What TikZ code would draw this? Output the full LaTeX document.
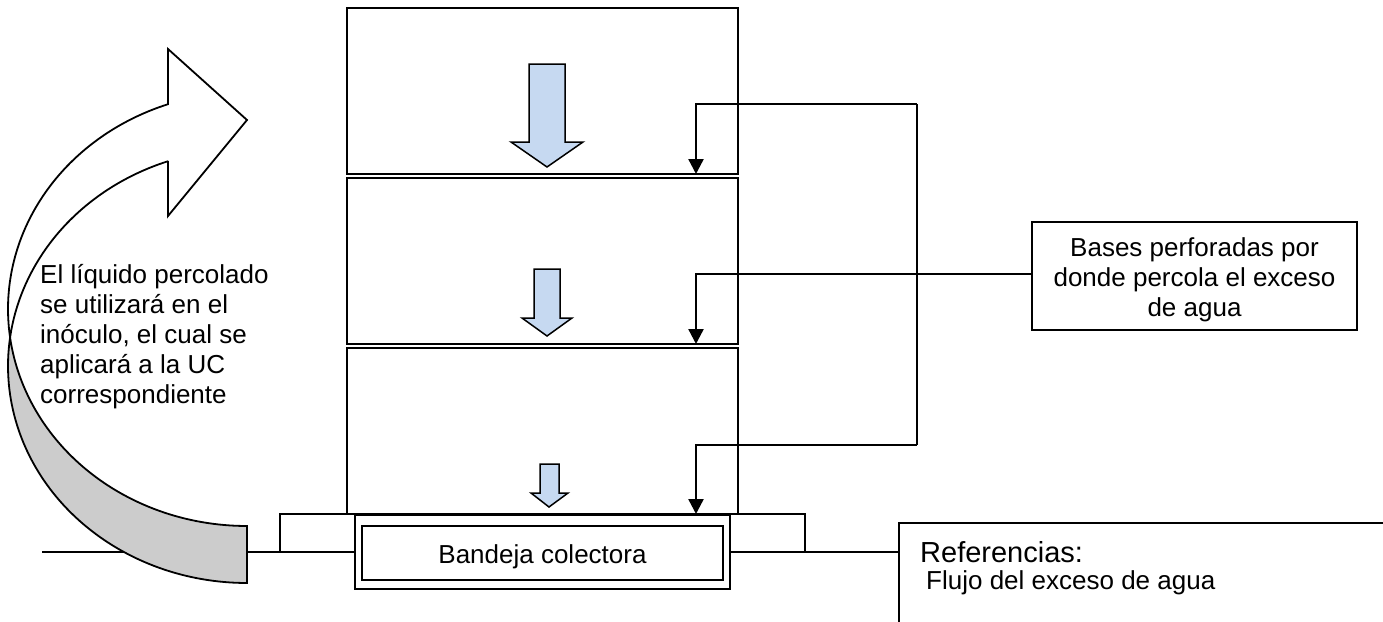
\documentclass[tikz,border=0pt]{standalone}
\usepackage{fontspec}
\setmainfont{Liberation Sans}
\usetikzlibrary{arrows.meta}
\definecolor{arrowblue}{HTML}{C6D9F1}
\definecolor{backgray}{HTML}{CCCCCC}
\begin{document}
\begin{tikzpicture}[x=1pt,y=-1pt,
  box/.style={draw, line width=1.6pt, outer sep=0pt, inner sep=0pt, anchor=north west},
  wire/.style={line width=2.4pt},
  conn/.style={line width=2.4pt, -{Triangle[length=15pt,width=15pt]}},
  blockarrow/.style={draw, line width=1.5pt, fill=arrowblue, line join=miter},
  bigarrow/.style={draw, line width=1.8pt, line join=miter},
  txt/.style={font=\fontsize{26}{30}\selectfont, inner sep=0pt},
  reftxt/.style={font=\fontsize{29}{33}\selectfont, inner sep=0pt}]
\useasboundingbox (0,0) rectangle (1383,621);
\fill[white] (0,0) rectangle (1383,621);

% stacked containers
\node[box, minimum width=391pt, minimum height=166pt] (b1) at (347,8) {};
\node[box, minimum width=391pt, minimum height=166pt] (b2) at (347,178) {};
\node[box, minimum width=391pt, minimum height=166pt] (b3) at (347,348) {};

% supports and collecting tray
\node[box, minimum width=75pt, minimum height=38pt] (lsup) at (280,514) {};
\node[box, minimum width=75pt, minimum height=38pt] (rsup) at (730,514) {};
\node[box, minimum width=375pt, minimum height=74pt] (trayout) at (355,515) {};
\node[box, minimum width=361pt, minimum height=54pt] (tray) at (362,526) {};
\node[txt] (traylabel) at ([yshift=-4pt]tray.center) {Bandeja colectora};

% ground lines
\coordinate (gl) at (42,552);
\coordinate (refcorner) at (899,552);
\draw[line width=1.6pt] (gl) -- (lsup.south west);
\draw[line width=1.6pt] (rsup.south east) -- (refcorner);

% references box (runs off the page)
\draw[line width=1.6pt] (1384,523) -- (899,523) -- (899,622);
\node[reftxt, anchor=base west] (ref1) at (920,562) {Referencias:};
\node[txt, anchor=base west] (ref2) at (926,589) {Flujo del exceso de agua};

% blue flow arrows
\draw[blockarrow] (529,64) -- (565,64) -- (565,142) -- (583,142) -- (547,167) -- (511,142) -- (529,142) -- cycle;
\draw[blockarrow] (534,269) -- (560,269) -- (560,318) -- (572,318) -- (547,336) -- (522,318) -- (534,318) -- cycle;
\draw[blockarrow] (540,464) -- (559,464) -- (559,493) -- (568,493) -- (549,507) -- (531,493) -- (540,493) -- cycle;

% label box
\node[draw, line width=1.6pt, minimum width=325pt, minimum height=108pt, inner sep=0pt, outer sep=0pt] (bases) at (1194.5,276) {};
\node[txt, align=center] (baseslabel) at ([yshift=-4pt]bases.center) {Bases perforadas por\\donde percola el exceso\\de agua};

% connectors
\coordinate (s1) at (917,104);
\coordinate (s3) at (917,445);
\coordinate (t1) at (696,174);
\coordinate (t2) at (696,344);
\coordinate (t3) at (696,514);
\coordinate (bj) at (1032,274);
\draw[wire] (s1) -- (s3);
\draw[conn] (s1) -| (t1);
\draw[conn] (bj) -| (t2);
\draw[conn] (s3) -| (t3);

% curved arrow (back side shaded)
\fill[backgray] plot[domain=187.55:90, samples=60] ({247+239*cos(\x)},{366+217*sin(\x)})
   -- (247,526) -- plot[domain=90:172.45, samples=60] ({247+239*cos(\x)},{309+217*sin(\x)}) -- cycle;
\draw[bigarrow] (168,104) -- (168,49) -- (247,120) -- (168,216) -- (168,161)
   -- plot[domain=250.7:90, samples=120] ({247+239*cos(\x)},{366+217*sin(\x)})
   -- (247,526)
   -- plot[domain=90:250.7, samples=120] ({247+239*cos(\x)},{309+217*sin(\x)}) -- cycle;

% left explanatory text
\node[txt, anchor=west, align=left] (note) at (40,337) {El líquido percolado\\se utilizará en el\\inóculo, el cual se\\aplicará a la UC\\correspondiente};
\end{tikzpicture}
\end{document}
